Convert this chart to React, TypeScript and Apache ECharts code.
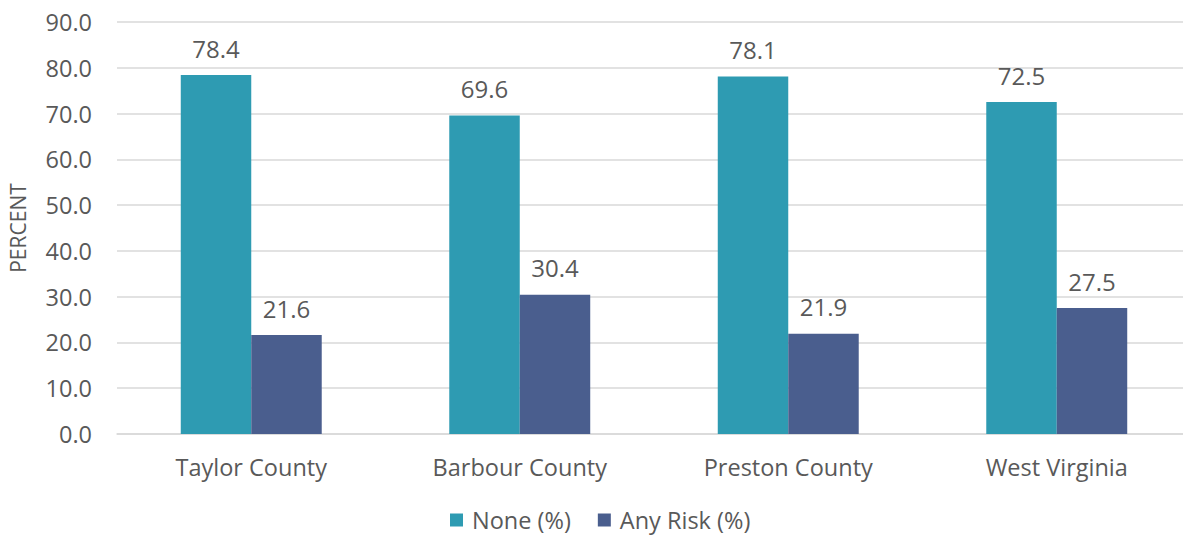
import React, { useEffect, useRef } from "react";
import * as echarts from "echarts";

const categories = ["Taylor County", "Barbour County", "Preston County", "West Virginia"];
const noneValues = [78.4, 69.6, 78.1, 72.5];
const anyRiskValues = [21.6, 30.4, 21.9, 27.5];
const seriesNames = ["None (%)", "Any Risk (%)"];
const colors = ["#2E9BB2", "#4A5E8E"];

const FONT = "'Open Sans', sans-serif";
const TEXT = "#595959";
const SIZE = 23.5;

export default function App() {
  const ref = useRef<HTMLDivElement>(null);

  useEffect(() => {
    document.body.style.margin = "0";
    const chart = echarts.init(ref.current!, null, { renderer: "svg" });
    const label = {
      show: true,
      position: "top" as const,
      distance: 15,
      color: TEXT,
      fontFamily: FONT,
      fontSize: 24,
      formatter: (p: any) => Number(p.value).toFixed(1),
    };
    chart.setOption({
      animation: false,
      backgroundColor: "#ffffff",
      color: colors,
      grid: {
        left: 117,
        width: 1074,
        top: 22,
        height: 412,
        containLabel: false,
        outerBoundsMode: "none",
      },
      legend: {
        bottom: 2,
        left: 445,
        itemWidth: 13,
        itemHeight: 13,
        itemGap: 27,
        icon: "rect",
        textStyle: {
          color: TEXT,
          fontFamily: FONT,
          fontSize: SIZE,
          padding: [0, 0, 0, 4],
        },
        data: seriesNames,
      },
      xAxis: {
        type: "category",
        data: categories,
        axisLine: { lineStyle: { color: "#D9D9D9", width: 1.5 } },
        axisTick: { show: false },
        axisLabel: { color: TEXT, fontFamily: FONT, fontSize: SIZE, margin: 21 },
      },
      yAxis: {
        type: "value",
        min: 0,
        max: 90,
        interval: 10,
        name: "PERCENT",
        nameLocation: "middle",
        nameGap: 89,
        nameRotate: 90,
        nameTextStyle: { color: TEXT, fontFamily: FONT, fontSize: 21 },
        axisLine: { show: false },
        axisTick: { show: false },
        splitLine: { lineStyle: { color: "#D9D9D9", width: 1.5 } },
        axisLabel: {
          color: TEXT,
          fontFamily: FONT,
          fontSize: SIZE,
          margin: 25,
          formatter: (v: number) => v.toFixed(1),
        },
      },
      series: [
        {
          name: seriesNames[0],
          type: "bar",
          data: noneValues,
          barGap: "0%",
          barCategoryGap: "47.5%",
          label,
        },
        {
          name: seriesNames[1],
          type: "bar",
          data: anyRiskValues,
          label,
        },
      ],
    });
    return () => chart.dispose();
  }, []);

  return <div ref={ref} style={{ width: 1183, height: 539, overflow: "hidden" }} />;
}
